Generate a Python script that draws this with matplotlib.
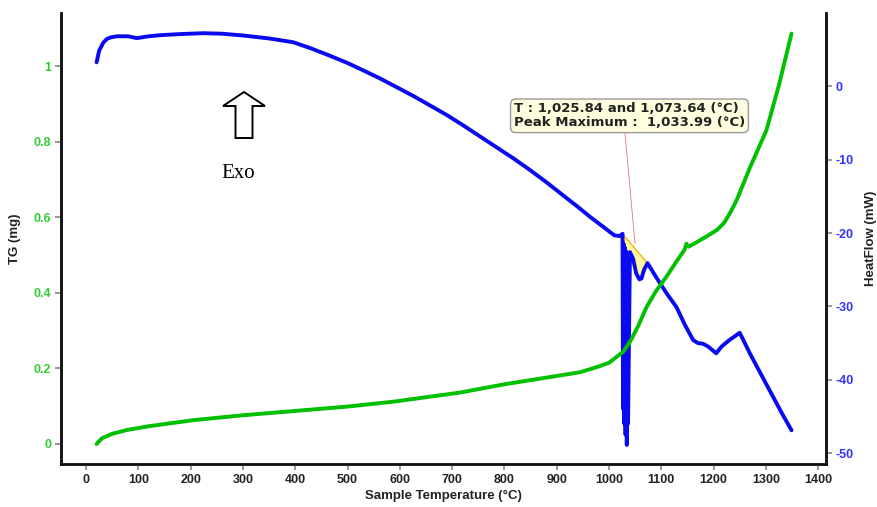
import matplotlib

matplotlib.use("Agg")
import matplotlib.pyplot as plt
from matplotlib.patches import FancyArrow

plt.rcParams["font.family"] = ["Liberation Sans", "DejaVu Sans"]
plt.rcParams["axes.unicode_minus"] = False

# TG trace (mg) vs sample temperature (°C)
tg_temp = [20, 30, 50, 78, 120, 205, 300, 396, 500, 588, 715, 800, 900, 945,
           980, 1000, 1027, 1040, 1055, 1072, 1090, 1110, 1130, 1145, 1148,
           1152, 1164, 1185, 1206, 1220, 1231, 1244, 1270, 1301, 1325, 1349]
tg_mg = [0.0, 0.015, 0.027, 0.037, 0.047, 0.063, 0.076, 0.087, 0.099, 0.112,
         0.136, 0.158, 0.18, 0.19, 0.205, 0.215, 0.244, 0.27, 0.31, 0.363,
         0.405, 0.443, 0.485, 0.515, 0.53, 0.522, 0.531, 0.548, 0.566, 0.585,
         0.61, 0.645, 0.733, 0.83, 0.95, 1.086]

# Heat flow trace (mW) vs sample temperature (°C)
hf_temp = [20, 25, 33, 40, 47, 59, 80, 97, 120, 142, 180, 224, 260, 301, 350,
           396, 430, 466, 500, 530, 562, 594, 626, 658, 690, 721, 753, 785,
           817, 849, 881, 913, 940, 964, 990, 1010, 1020,
           1025.84, 1026.8, 1028.0, 1029.2, 1030.4, 1031.6, 1032.8, 1034.0,
           1035.2, 1036.4, 1040, 1046,
           1052, 1058, 1062, 1067, 1073.64, 1090, 1110, 1129, 1145, 1161,
           1170, 1180, 1190, 1205, 1215, 1230, 1250, 1270, 1300, 1330, 1349]
hf_mw = [3.3, 4.9, 6.0, 6.5, 6.7, 6.85, 6.85, 6.6, 6.85, 7.0, 7.15, 7.27, 7.2,
         6.95, 6.55, 6.04, 5.2, 4.2, 3.2, 2.2, 1.1, -0.1, -1.3, -2.6, -3.9,
         -5.3, -6.8, -8.3, -9.8, -11.4, -13.1, -14.9, -16.4, -17.8, -19.2,
         -20.3, -20.4,
         -20.1, -44.0, -21.5, -46.0, -22.0, -47.5, -22.5, -48.9,
         -23.0, -46.0, -22.6, -23.5,
         -25.5, -26.3, -26.2, -25.0, -24.1, -26.0, -28.2, -30.1,
         -32.5, -34.6, -35.0, -35.1, -35.5, -36.4, -35.5, -34.6, -33.6, -36.5,
         -40.5, -44.5, -46.9]

# integrated peak region (baseline from onset to end)
peak_temp = [1025.84, 1036, 1040, 1046, 1052, 1058, 1062, 1067, 1073.64]
peak_mw = [-20.1, -23.5, -22.6, -23.5, -25.5, -26.3, -26.2, -25.0, -24.1]

GREEN = "#00c000"
BLUE = "#0a0af0"

fig = plt.figure(figsize=(8.78, 5.07), dpi=100)
ax = fig.add_axes([0.0695, 0.0848, 0.8713, 0.8892])
ax2 = ax.twinx()

ax.plot(tg_temp, tg_mg, color=GREEN, lw=2.8, solid_capstyle="round",
        solid_joinstyle="round", zorder=3)
ax2.fill(peak_temp, peak_mw, facecolor="#fff59a", edgecolor="#e0a800", lw=0.8, zorder=1)
ax2.plot(hf_temp, hf_mw, color=BLUE, lw=2.8, solid_capstyle="round",
         solid_joinstyle="round", zorder=2)

ax.set_xlim(-48, 1415)
ax.set_ylim(-0.053, 1.14)
ax2.set_ylim(-51.5, 10)
ax.set_zorder(ax2.get_zorder() + 1)
ax.patch.set_visible(False)

ax.set_xticks(range(0, 1401, 100))
ax.set_yticks([0, 0.2, 0.4, 0.6, 0.8, 1])
ax.set_yticklabels(["0", "0.2", "0.4", "0.6", "0.8", "1"])
ax2.set_yticks(range(-50, 1, 10))

for a in (ax, ax2):
    a.spines["top"].set_visible(False)
    for s in ("left", "right", "bottom"):
        a.spines[s].set_linewidth(1.8)
        a.spines[s].set_color("#111111")
    a.tick_params(direction="out", length=4, width=1.2, color="#888888",
                  labelsize=9, pad=3)

for lbl in ax.get_xticklabels():
    lbl.set_fontweight("bold")
    lbl.set_color("#222222")
for lbl in ax.get_yticklabels():
    lbl.set_fontweight("bold")
    lbl.set_color("#33cc33")
for lbl in ax2.get_yticklabels():
    lbl.set_fontweight("bold")
    lbl.set_color("#3333ff")

ax.set_xlabel("Sample Temperature (°C)", fontsize=9.5, fontweight="bold",
              color="#222222", labelpad=3)
ax.set_ylabel("TG (mg)", fontsize=9.5, fontweight="bold", color="#222222", labelpad=9)
ax2.set_ylabel("HeatFlow (mW)", fontsize=9.5, fontweight="bold", color="#222222",
               labelpad=8)

# peak annotation
ax2.plot([1030.6, 1049.7], [-6.4, -21.4], color="#e05050", lw=0.6, alpha=0.8, zorder=4)
ax2.text(818, -4.0,
         "T : 1,025.84 and 1,073.64 (°C)\nPeak Maximum :  1,033.99 (°C)",
         fontsize=9.5, fontweight="bold", family="DejaVu Sans", color="#222222",
         ha="left", va="center", linespacing=1.1, zorder=5,
         bbox=dict(boxstyle="round,pad=0.25,rounding_size=0.4", fc="#ffffe0",
                   ec="#999999", lw=1.0))

# exothermic direction marker
W, H = 878, 507
fig.add_artist(FancyArrow(244 / W, (H - 138) / H, 0, 46 / H, width=17 / W,
                          head_width=42 / W, head_length=14 / H,
                          length_includes_head=True, transform=fig.transFigure,
                          facecolor="white", edgecolor="black", lw=1.4))
fig.text(238 / W, (H - 174) / H, "Exo", fontsize=15, family="Liberation Serif",
         ha="center", va="center")

fig.savefig("out.png", dpi=100)
